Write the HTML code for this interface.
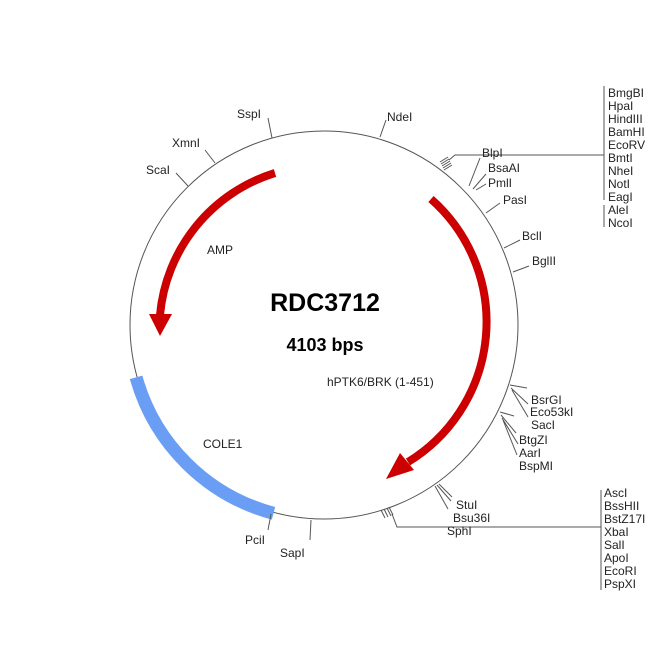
<!DOCTYPE html>
<html><head><meta charset="utf-8"><style>
html,body{margin:0;padding:0;background:#fff}
text{font-family:"Liberation Sans",Arial,sans-serif;font-size:12px;fill:#222}
</style></head><body>
<svg width="650" height="650" viewBox="0 0 650 650" xmlns="http://www.w3.org/2000/svg">
<circle cx="324" cy="325" r="194" fill="none" stroke="#555" stroke-width="1"/>
<path d="M136.1 377.4 A195 195 0 0 0 273.5 513.3" fill="none" stroke="#6a9ef5" stroke-width="13"/>
<path d="M275 173 A164 164 0 0 0 160 315" fill="none" stroke="#cc0000" stroke-width="8"/>
<polygon points="149,314 172,314 160,336" fill="#cc0000"/>
<path d="M431 199 A164 164 0 0 1 408 462" fill="none" stroke="#cc0000" stroke-width="8"/>
<polygon points="400,453 414,470 386,479" fill="#cc0000"/>
<g stroke="#555" stroke-width="1" fill="none">
<path d="M272 138 L268 118"/>
<path d="M380 137 L386 120"/>
<path d="M215 163 L205 150"/>
<path d="M188 186 L176 173"/>
<path d="M440 162 l8 -5 M441 164 l8 -5 M442 166 l8 -5 M443 168 l8 -5 M444 170 l8 -5"/>
<path d="M449 160 L455 155 L604 155"/>
<path d="M604 86 V200 M604 205 V227"/>
<path d="M469 186 L480 158"/>
<path d="M473 189 L486 174"/>
<path d="M476 190 L486 184"/>
<path d="M486 213 L500 203"/>
<path d="M504 248 L520 240"/>
<path d="M513 272 L529 266"/>
<path d="M510 385 L527 388 M511 388 L528 404 M512 390 L528 417"/>
<path d="M500 412 L514 416 M501 415 L516 433 M502 418 L518 444 M503 420 L517 455"/>
<path d="M435 486 L448 509 M437 485 L451 501 M439 484 L452 497"/>
<path d="M387 508 l4 8 M384 509 l4 8 M381 510 l4 8 M389 507 l4 8"/>
<path d="M392 514 L397 527 L601 527"/>
<path d="M601 490 V590"/>
<path d="M271 514 L268 530"/>
<path d="M311 520 L310 540"/>
</g>
<text x="237" y="118">SspI</text>
<text x="387" y="121">NdeI</text>
<text x="172" y="147">XmnI</text>
<text x="146" y="174">ScaI</text>
<text x="482" y="157">BlpI</text>
<text x="488" y="172">BsaAI</text>
<text x="488" y="187">PmlI</text>
<text x="503" y="204">PasI</text>
<text x="522" y="240">BclI</text>
<text x="532" y="265">BglII</text>
<g>
<text x="608" y="97">BmgBI</text><text x="608" y="110">HpaI</text><text x="608" y="123">HindIII</text><text x="608" y="136">BamHI</text><text x="608" y="149">EcoRV</text><text x="608" y="162">BmtI</text><text x="608" y="175">NheI</text><text x="608" y="188">NotI</text><text x="608" y="201">EagI</text><text x="608" y="214">AleI</text><text x="608" y="227">NcoI</text>
</g>
<text x="531" y="404">BsrGI</text>
<text x="530" y="416">Eco53kI</text>
<text x="531" y="429">SacI</text>
<text x="519" y="444">BtgZI</text>
<text x="519" y="457">AarI</text>
<text x="519" y="470">BspMI</text>
<text x="456" y="509">StuI</text>
<text x="453" y="522">Bsu36I</text>
<text x="447" y="535">SphI</text>
<g>
<text x="604" y="497">AscI</text><text x="604" y="510">BssHII</text><text x="604" y="523">BstZ17I</text><text x="604" y="536">XbaI</text><text x="604" y="549">SalI</text><text x="604" y="562">ApoI</text><text x="604" y="575">EcoRI</text><text x="604" y="588">PspXI</text>
</g>
<text x="245" y="544">PciI</text>
<text x="280" y="557">SapI</text>
<text x="207" y="254">AMP</text>
<text x="203" y="448">COLE1</text>
<text x="327" y="386">hPTK6/BRK (1-451)</text>
<text x="325" y="311" text-anchor="middle" style="font-size:25px;font-weight:bold;fill:#000">RDC3712</text>
<text x="325" y="351" text-anchor="middle" style="font-size:18px;font-weight:bold;fill:#000">4103 bps</text>
</svg>
</body></html>
